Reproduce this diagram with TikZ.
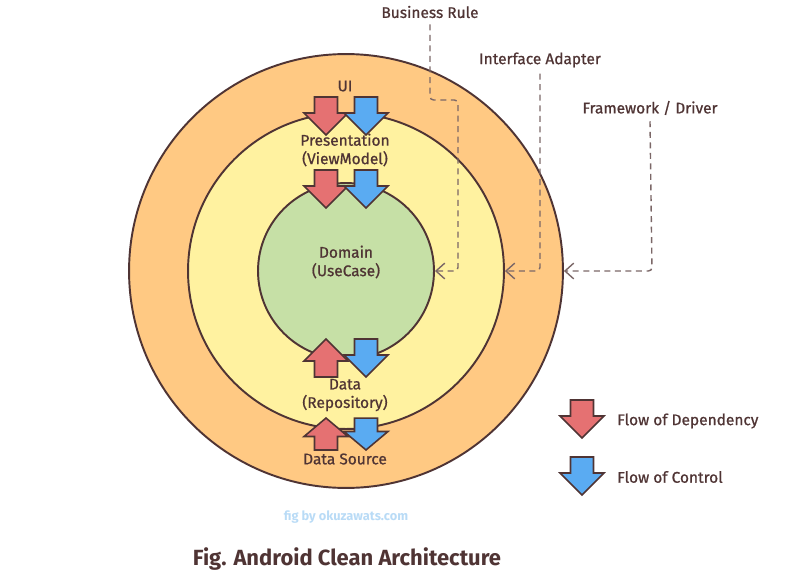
\documentclass[tikz,border=0pt]{standalone}
\usepackage{fontspec}
\setmainfont{Fira Sans}[UprightFeatures={FakeBold=0.8}]
\usetikzlibrary{arrows.meta}

\definecolor{ink}{HTML}{4F3434}
\definecolor{outerfill}{HTML}{FFC983}
\definecolor{middlefill}{HTML}{FFF2A0}
\definecolor{innerfill}{HTML}{C6E0A6}
\definecolor{depred}{HTML}{E57172}
\definecolor{ctrlblue}{HTML}{5AABF2}
\definecolor{markblue}{HTML}{B9DBF6}

\tikzset{
  ring/.style={circle, draw=ink, line width=1.1pt, inner sep=0pt},
  % block arrow pointing down (screen), 38 units long
  blockarrow/.pic={
    \path[pic actions] (-11.5,-19) -- (11.5,-19) -- (11.5,-3) -- (22,-3)
      -- (0,19) -- (-22,-3) -- (-11.5,-3) -- cycle;
  },
  deparrow/.style={draw=ink, line width=0.9pt, fill=depred, line join=miter},
  ctrlarrow/.style={draw=ink, line width=0.9pt, fill=ctrlblue, line join=miter},
  label/.style={text=ink, font=\fontsize{8.8}{10.5}\selectfont, align=center},
  layer/.style={label, anchor=center},
  guide/.style={draw=ink!75, line width=0.8pt, dash pattern=on 3.4pt off 2.6pt,
    -{Straight Barb[length=5pt,width=9pt]}, rounded corners=2pt}
}

\begin{document}
\begin{tikzpicture}[x=0.02cm, y=-0.02cm]
  \useasboundingbox (0,0) rectangle (808,578);

  % the three layers
  \node[ring, fill=outerfill, minimum size=8.68cm] (outer) at (346,271) {};
  \node[ring, fill=middlefill, minimum size=6.32cm] (middle) at (346,271) {};
  \node[ring, fill=innerfill, minimum size=3.52cm] (inner) at (346,271) {};

  % dependency / control arrows
  \pic[deparrow] (dep1) at (326,116) {blockarrow};
  \pic[ctrlarrow] (ctrl1) at (366,116) {blockarrow};
  \pic[deparrow] (dep2) at (326,189) {blockarrow};
  \pic[ctrlarrow] (ctrl2) at (366,189) {blockarrow};
  \pic[deparrow, rotate=180] (dep3) at (326,358) {blockarrow};
  \pic[ctrlarrow] (ctrl3) at (366,358) {blockarrow};
  \pic[deparrow, rotate=180, yscale=0.84] (dep4) at (326,434) {blockarrow};
  \pic[ctrlarrow, yscale=0.84] (ctrl4) at (366,434) {blockarrow};

  % layer names
  \node[layer] (ui) at (345,86) {UI};
  \node[layer] (presentation) at (345,150) {Presentation\\(ViewModel)};
  \node[layer] (domain) at (346,262) {Domain\\(UseCase)};
  \node[layer] (data) at (345,395) {Data\\(Repository)};
  \node[layer] (source) at (345,459) {Data Source};

  % ring captions
  \node[label] (business) at (430,12) {Business Rule};
  \node[label] (adapter) at (540,60) {Interface Adapter};
  \node[label] (framework) at (650,108) {Framework / Driver};

  \draw[guide] (business.south) -- (430,100) -- (458,100) -- (458,271) -- (inner.east);
  \draw[guide] (adapter.south) -- (540,271) -- (middle.east);
  \draw[guide] (framework.south) -- (652,271) -- (outer.east);

  % legend
  \pic[deparrow] (legenddep) at (582,419) {blockarrow};
  \pic[ctrlarrow] (legendctrl) at (582,476) {blockarrow};
  \node[label, anchor=west] (deptext) at (611,421) {Flow of Dependency};
  \node[label, anchor=west] (ctrltext) at (611,477) {Flow of Control};

  \node[text=markblue, font=\bfseries\fontsize{7.3}{9}\selectfont] (credit) at (346,517) {fig by okuzawats.com};
  \node[text=ink, font=\bfseries\fontsize{12.5}{15}\selectfont] (title) at (347,559) {Fig. Android Clean Architecture};
\end{tikzpicture}
\end{document}
